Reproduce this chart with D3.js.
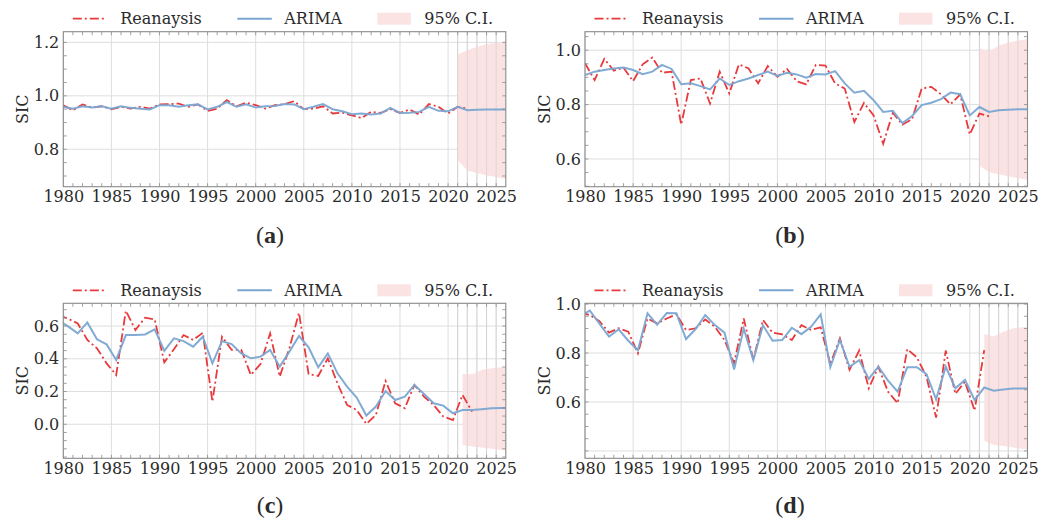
<!DOCTYPE html>
<html>
<head>
<meta charset="utf-8">
<script src="https://cdn.jsdelivr.net/npm/d3@7"></script>
<style>
  body { margin: 0; background: #fff; }
  svg { display: block; }
  text { font-family: "DejaVu Serif", serif; fill: #2b2b2b; }
</style>
</head>
<body>
<svg id="chart" width="1059" height="520"></svg>
<script>
// years on the x axis
var yearsAB = d3.range(1980, 2027);        // panels a, b: 1980 .. 2026
var yearsCD = d3.range(1979, 2027);        // panels c, d: 1979 .. 2026 (stamped mid-year)
var ciYears = [2021, 2022, 2023, 2024, 2025, 2026];
var xTicks = [1980, 1985, 1990, 1995, 2000, 2005, 2010, 2015, 2020, 2025];
var xExtraGrid = [2021, 2022, 2023, 2024];

// (a)
var reanA = [0.965,0.946,0.968,0.956,0.961,0.95,0.959,0.952,0.959,0.952,
  0.968,0.969,0.971,0.959,0.968,0.944,0.952,0.984,0.961,0.974,
  0.965,0.952,0.965,0.969,0.98,0.95,0.952,0.961,0.934,0.937,
  0.927,0.917,0.94,0.936,0.95,0.936,0.949,0.93,0.969,0.959,
  0.934,0.959,0.952];
var arimaA = [0.959,0.952,0.961,0.956,0.961,0.952,0.961,0.955,0.952,0.949,
  0.965,0.965,0.959,0.965,0.968,0.949,0.959,0.977,0.959,0.968,
  0.956,0.961,0.962,0.969,0.968,0.95,0.959,0.969,0.95,0.942,
  0.931,0.934,0.93,0.934,0.955,0.936,0.937,0.94,0.959,0.944,
  0.942,0.959,0.946,0.948,0.949,0.949,0.949];
var ciLoA = [0.759,0.721,0.711,0.703,0.696,0.688];
var ciHiA = [1.155,1.171,1.184,1.193,1.199,1.203];
var yDomainA = [0.66, 1.24];
var yTicksA = [0.8, 1.0, 1.2];

// (b)
var reanB = [0.952,0.89,0.968,0.925,0.936,0.886,0.948,0.973,0.917,0.921,
  0.726,0.89,0.896,0.804,0.921,0.841,0.948,0.933,0.878,0.942,
  0.902,0.931,0.886,0.874,0.946,0.943,0.878,0.859,0.736,0.806,
  0.76,0.656,0.77,0.726,0.746,0.859,0.865,0.838,0.801,0.837,
  0.69,0.767,0.757];
var arimaB = [0.909,0.921,0.927,0.933,0.936,0.927,0.912,0.921,0.946,0.931,
  0.875,0.878,0.868,0.856,0.896,0.872,0.886,0.896,0.909,0.921,
  0.905,0.917,0.911,0.899,0.912,0.911,0.923,0.878,0.844,0.851,
  0.816,0.773,0.777,0.732,0.758,0.798,0.807,0.82,0.844,0.838,
  0.76,0.791,0.773,0.779,0.781,0.783,0.783];
var ciLoB = [0.575,0.551,0.544,0.536,0.53,0.523];
var ciHiB = [1.007,0.995,1.016,1.028,1.035,1.041];
var yDomainB = [0.498, 1.068];
var yTicksB = [0.6, 0.8, 1.0];

// (c)  first value is 1979
var reanC = [0.667,0.645,0.616,0.515,0.464,0.372,0.301,0.694,0.576,0.651,0.641,
  0.378,0.458,0.545,0.515,0.559,0.138,0.535,0.454,0.454,0.301,
  0.368,0.555,0.291,0.464,0.681,0.307,0.295,0.403,0.25,0.118,
  0.087,0.002,0.057,0.264,0.128,0.098,0.24,0.169,0.118,0.047,
  0.026,0.179,0.077];
var arimaC = [0.634,0.598,0.555,0.622,0.519,0.488,0.393,0.545,0.545,0.549,0.58,
  0.449,0.525,0.508,0.474,0.535,0.372,0.508,0.49,0.433,0.403,
  0.413,0.454,0.352,0.443,0.539,0.47,0.348,0.433,0.311,0.23,
  0.163,0.053,0.108,0.203,0.148,0.169,0.24,0.185,0.128,0.114,
  0.067,0.087,0.087,0.092,0.098,0.1,0.1,0.1];
var ciLoC = [-0.126,-0.136,-0.142,-0.15,-0.157,-0.161];
var ciHiC = [0.307,0.305,0.332,0.342,0.348,0.352];
var yDomainC = [-0.208, 0.739];
var yTicksC = [0.0, 0.2, 0.4, 0.6];

// (d)  first value is 1979
var reanD = [0.966,0.955,0.93,0.883,0.901,0.887,0.799,0.941,0.921,0.941,0.958,
  0.894,0.901,0.937,0.907,0.853,0.758,0.941,0.771,0.935,0.883,
  0.876,0.853,0.914,0.894,0.905,0.755,0.86,0.731,0.81,0.656,
  0.744,0.642,0.595,0.816,0.782,0.703,0.536,0.81,0.633,0.683,
  0.565,0.812];
var arimaD = [0.951,0.973,0.92,0.867,0.897,0.85,0.811,0.962,0.916,0.963,0.962,
  0.857,0.898,0.955,0.914,0.883,0.733,0.9,0.771,0.913,0.85,
  0.853,0.903,0.877,0.907,0.958,0.742,0.853,0.744,0.771,0.694,
  0.744,0.687,0.642,0.742,0.742,0.714,0.611,0.744,0.656,0.69,
  0.608,0.659,0.646,0.651,0.655,0.655,0.655];
var ciLoD = [0.442,0.424,0.42,0.414,0.408,0.404];
var ciHiD = [0.878,0.867,0.887,0.901,0.905,0.907];
var yDomainD = [0.370, 1.003];
var yTicksD = [0.6, 0.8, 1.0];
var yGridExtraD = [0.4];

var panels = [
  {name: "a", years: yearsAB, shift: 0, rean: reanA, arima: arimaA, lo: ciLoA, hi: ciHiA, yDomain: yDomainA, yTicks: yTicksA, yGrid: [], col: 0, row: 0},
  {name: "b", years: yearsAB, shift: 0, rean: reanB, arima: arimaB, lo: ciLoB, hi: ciHiB, yDomain: yDomainB, yTicks: yTicksB, yGrid: [], col: 1, row: 0},
  {name: "c", years: yearsCD, shift: 0.5, rean: reanC, arima: arimaC, lo: ciLoC, hi: ciHiC, yDomain: yDomainC, yTicks: yTicksC, yGrid: [], col: 0, row: 1},
  {name: "d", years: yearsCD, shift: 0.5, rean: reanD, arima: arimaD, lo: ciLoD, hi: ciHiD, yDomain: yDomainD, yTicks: yTicksD, yGrid: yGridExtraD, col: 1, row: 1}
];

var dimensions = {
  width: 442.5,
  height: 155,
  left: [63.3, 585],
  top: [31.7, 303.3],
  caption: {x: [270, 790], y: [243, 513]}
};

var red = "#e8393c", blue = "#7aa6d2", pink = "#fbe3e3", gridColor = "#dedede", spineColor = "#8a8a8a";

var svg = d3.select("#chart");

panels.forEach(function(p) {
  var w = dimensions.width, h = dimensions.height;
  var g = svg.append("g")
    .attr("transform", `translate(${dimensions.left[p.col]}, ${dimensions.top[p.row]})`);

  var x = d3.scaleLinear().domain([1980, 2026]).range([0, w]);
  var y = d3.scaleLinear().domain(p.yDomain).range([h, 0]);
  var xd = yr => x(yr + p.shift);   // where a data year is stamped

  // clip
  svg.append("clipPath").attr("id", "clip" + p.name)
    .append("rect").attr("width", w).attr("height", h);

  // grid
  g.append("g").selectAll("line")
    .data(xTicks.concat(xExtraGrid))
    .enter().append("line")
    .attr("x1", d => x(d)).attr("x2", d => x(d))
    .attr("y1", 0).attr("y2", h)
    .attr("stroke", gridColor).attr("stroke-width", 1);
  g.append("g").selectAll("line")
    .data(p.yTicks.concat(p.yGrid))
    .enter().append("line")
    .attr("x1", 0).attr("x2", w)
    .attr("y1", d => y(d)).attr("y2", d => y(d))
    .attr("stroke", gridColor).attr("stroke-width", 1);

  var plot = g.append("g").attr("clip-path", `url(#clip${p.name})`);

  // confidence band
  var ci = ciYears.map((yr, k) => ({year: yr, lo: p.lo[k], hi: p.hi[k]}));
  plot.append("path")
    .datum(ci)
    .attr("fill", pink)
    .attr("d", d3.area().x(d => xd(d.year)).y0(d => y(d.lo)).y1(d => y(d.hi)));

  // year lines seen through the band
  plot.append("g").selectAll("line")
    .data([2021, 2022, 2023, 2024, 2025])
    .enter().append("line")
    .attr("x1", d => x(d)).attr("x2", d => x(d))
    .attr("y1", 0).attr("y2", h)
    .attr("stroke", "#c8c8c8").attr("stroke-opacity", 0.5).attr("stroke-width", 1);

  var line = d3.line().x(d => xd(d[0])).y(d => y(d[1]));

  plot.append("path")
    .datum(p.rean.map((v, k) => [p.years[k], v]))
    .attr("fill", "none")
    .attr("stroke", red)
    .attr("stroke-width", 1.8)
    .attr("stroke-dasharray", "9,3,2,3")
    .attr("d", line);

  plot.append("path")
    .datum(p.arima.map((v, k) => [p.years[k], v]))
    .attr("fill", "none")
    .attr("stroke", blue)
    .attr("stroke-opacity", 0.95)
    .attr("stroke-width", 2)
    .attr("d", line);

  // minor ticks pointing in
  var tickLen = 3.5;
  var yMinor = d3.range(Math.ceil(p.yDomain[0] / 0.05) * 0.05, p.yDomain[1], 0.05);
  var tg = g.append("g").attr("stroke", spineColor).attr("stroke-width", 0.8);
  d3.range(1981, 2026).forEach(function(yr) {
    tg.append("line").attr("x1", x(yr)).attr("x2", x(yr)).attr("y1", 0).attr("y2", tickLen);
    tg.append("line").attr("x1", x(yr)).attr("x2", x(yr)).attr("y1", h).attr("y2", h - tickLen);
  });
  yMinor.forEach(function(v) {
    tg.append("line").attr("x1", w).attr("x2", w - tickLen).attr("y1", y(v)).attr("y2", y(v));
    tg.append("line").attr("x1", 0).attr("x2", tickLen).attr("y1", y(v)).attr("y2", y(v));
  });

  // frame
  g.append("rect")
    .attr("width", w).attr("height", h)
    .attr("fill", "none")
    .attr("stroke", spineColor)
    .attr("stroke-width", 1.1);

  // tick labels
  var xAxis = g.append("g")
    .attr("transform", `translate(0, ${h})`)
    .call(d3.axisBottom(x).tickValues(xTicks).tickFormat(d3.format("d")).tickSize(0).tickPadding(4));
  xAxis.select(".domain").remove();
  xAxis.selectAll("text").attr("font-size", 16).attr("font-family", "DejaVu Serif").attr("fill", "#2b2b2b");

  var yAxis = g.append("g")
    .call(d3.axisLeft(y).tickValues(p.yTicks).tickFormat(d3.format(".1f")).tickSize(0).tickPadding(4));
  yAxis.select(".domain").remove();
  yAxis.selectAll("text").attr("font-size", 16).attr("font-family", "DejaVu Serif").attr("fill", "#2b2b2b");

  // y label
  g.append("text")
    .attr("transform", `translate(-35, ${h / 2}) rotate(-90)`)
    .attr("text-anchor", "middle")
    .attr("font-size", 16)
    .text("SIC");

  // legend
  var lg = g.append("g").attr("transform", "translate(0, -13)");
  lg.append("line").attr("x1", 9.5).attr("x2", 43.5).attr("y1", 0).attr("y2", 0)
    .attr("stroke", red).attr("stroke-width", 1.8).attr("stroke-dasharray", "9,3,2,3");
  lg.append("text").attr("x", 57).attr("y", 5.5).attr("font-size", 16).text("Reanaysis");
  lg.append("line").attr("x1", 174).attr("x2", 208.5).attr("y1", 0).attr("y2", 0)
    .attr("stroke", blue).attr("stroke-width", 2);
  lg.append("text").attr("x", 221).attr("y", 5.5).attr("font-size", 16).text("ARIMA");
  lg.append("rect").attr("x", 314).attr("y", -6).attr("width", 33.5).attr("height", 12)
    .attr("fill", pink);
  lg.append("text").attr("x", 361).attr("y", 5.5).attr("font-size", 16).text("95% C.I.");

  // caption
  svg.append("text")
    .attr("x", dimensions.caption.x[p.col])
    .attr("y", dimensions.caption.y[p.row])
    .attr("text-anchor", "middle")
    .style("font-family", "'Liberation Serif', serif")
    .attr("font-size", 24)
    .html(`(<tspan font-weight="bold">${p.name}</tspan>)`);
});
</script>
</body>
</html>
